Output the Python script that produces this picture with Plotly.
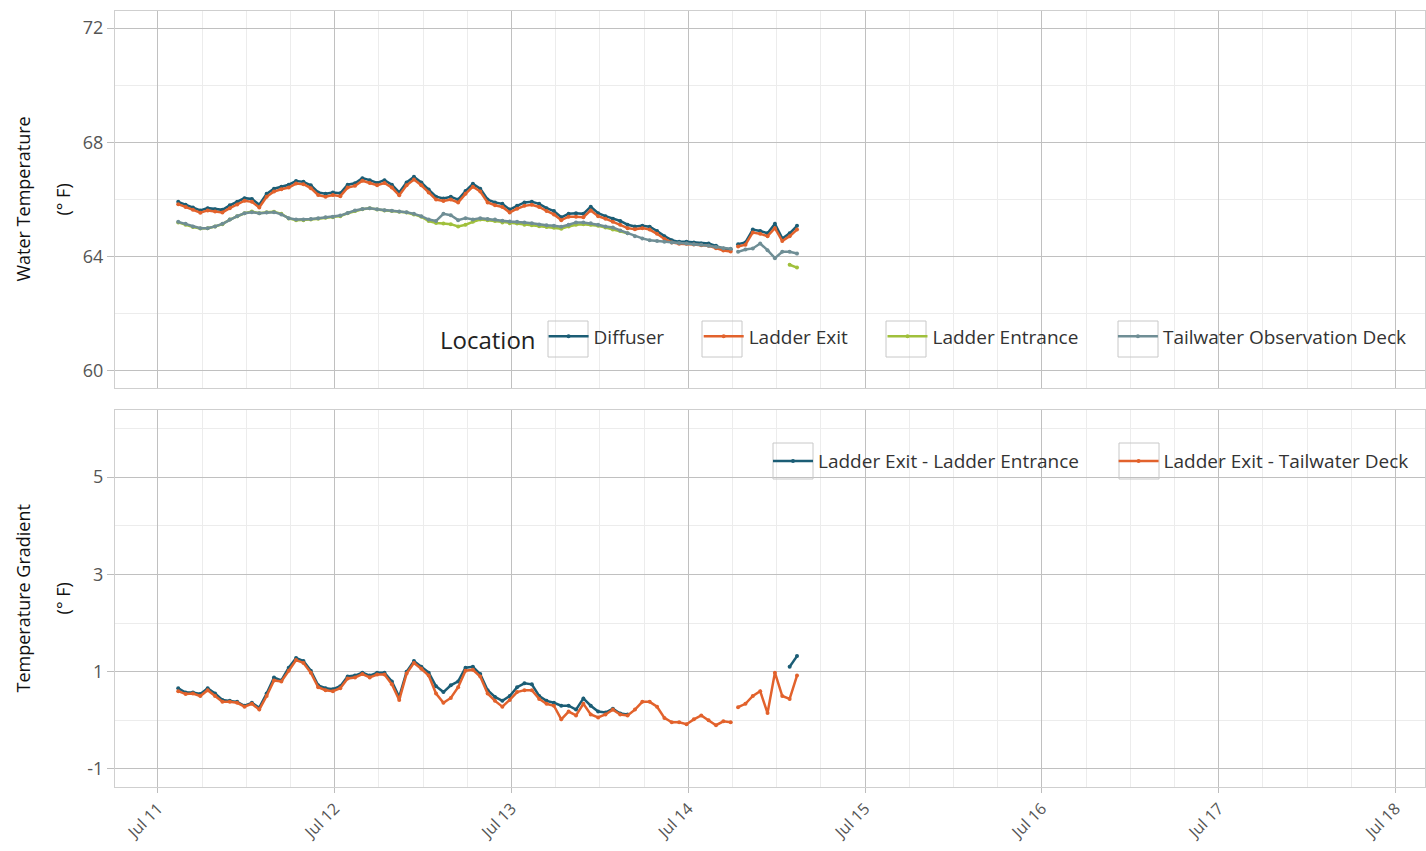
import pandas as pd
import plotly.graph_objects as go
from plotly.subplots import make_subplots

# ---- time axis (hourly readings, two segments with a gap on Jul 14) ----
seg1_start = "2023-07-11 02:45"
seg1_len = 76
seg2_start = "2023-07-14 06:45"
seg2_len = 9
gap_time = "2023-07-14 06:15"

# ---- Water temperature (deg F) ----
diffuser_1 = [65.92, 65.82, 65.72, 65.62, 65.70, 65.66, 65.64, 65.80, 65.92, 66.05,
              66.02, 65.82, 66.20, 66.38, 66.45, 66.52, 66.65, 66.62, 66.50, 66.25,
              66.20, 66.25, 66.22, 66.52, 66.57, 66.75, 66.68, 66.58, 66.68, 66.52,
              66.25, 66.60, 66.80, 66.60, 66.35, 66.10, 66.04, 66.10, 66.00, 66.30,
              66.55, 66.38, 66.00, 65.90, 65.85, 65.65, 65.78, 65.90, 65.92, 65.85,
              65.70, 65.60, 65.38, 65.50, 65.52, 65.50, 65.75, 65.52, 65.42, 65.33,
              65.25, 65.12, 65.06, 65.08, 65.05, 64.90, 64.72, 64.58, 64.52, 64.52,
              64.50, 64.46, 64.46, 64.38, 64.28, 64.25]
diffuser_2 = [64.44, 64.50, 64.95, 64.90, 64.82, 65.15, 64.64, 64.82, 65.08]

ladder_exit_1 = [65.84, 65.74, 65.64, 65.54, 65.62, 65.58, 65.55, 65.70, 65.83, 65.96,
                 65.92, 65.72, 66.10, 66.28, 66.36, 66.42, 66.56, 66.54, 66.40, 66.16,
                 66.10, 66.16, 66.12, 66.42, 66.48, 66.66, 66.58, 66.50, 66.58, 66.42,
                 66.15, 66.50, 66.70, 66.50, 66.25, 66.00, 65.95, 66.00, 65.90, 66.20,
                 66.45, 66.28, 65.90, 65.80, 65.74, 65.55, 65.68, 65.78, 65.82, 65.74,
                 65.60, 65.48, 65.28, 65.40, 65.40, 65.38, 65.62, 65.42, 65.33, 65.22,
                 65.12, 65.00, 64.96, 65.00, 64.95, 64.80, 64.62, 64.50, 64.45, 64.45,
                 64.43, 64.40, 64.38, 64.30, 64.22, 64.18]
ladder_exit_2 = [64.36, 64.42, 64.85, 64.80, 64.72, 65.00, 64.55, 64.72, 64.95]

ladder_entrance_1 = [65.20, 65.12, 65.04, 64.99, 65.00, 65.06, 65.14, 65.30, 65.42, 65.52,
                     65.58, 65.52, 65.56, 65.57, 65.50, 65.34, 65.28, 65.28, 65.30, 65.33,
                     65.36, 65.38, 65.42, 65.52, 65.60, 65.66, 65.70, 65.65, 65.62, 65.60,
                     65.57, 65.55, 65.48, 65.40, 65.25, 65.18, 65.16, 65.14, 65.06, 65.12,
                     65.22, 65.30, 65.28, 65.25, 65.20, 65.17, 65.16, 65.12, 65.10, 65.07,
                     65.04, 65.01, 64.98, 65.06, 65.12, 65.14, 65.12, 65.08, 65.02, 64.95,
                     64.90, 64.82,
                     None, None, None, None, None, None, None, None, None, None,
                     None, None, None, None]
ladder_entrance_2 = [None, None, None, None, None, None, None, 63.72, 63.62]

tailwater_1 = [65.22, 65.15, 65.06, 65.00, 65.00, 65.06, 65.15, 65.30, 65.42, 65.52,
               65.56, 65.52, 65.55, 65.56, 65.48, 65.35, 65.30, 65.30, 65.32, 65.35,
               65.38, 65.40, 65.44, 65.53, 65.62, 65.67, 65.70, 65.66, 65.63, 65.61,
               65.58, 65.56, 65.50, 65.42, 65.30, 65.25, 65.50, 65.45, 65.28, 65.35,
               65.30, 65.35, 65.32, 65.30, 65.26, 65.23, 65.22, 65.20, 65.17, 65.13,
               65.10, 65.08, 65.05, 65.12, 65.20, 65.20, 65.17, 65.12, 65.06, 65.02,
               64.92, 64.82, 64.72, 64.64, 64.58, 64.55, 64.52, 64.50, 64.48, 64.46,
               64.44, 64.42, 64.38, 64.34, 64.30, 64.28]
tailwater_2 = [64.17, 64.25, 64.29, 64.46, 64.23, 63.95, 64.17, 64.17, 64.11]

# ---- Temperature gradients (deg F) ----
exit_minus_entrance_1 = [0.66, 0.57, 0.57, 0.54, 0.66, 0.55, 0.42, 0.40, 0.38, 0.30,
                         0.36, 0.26, 0.55, 0.88, 0.82, 1.08, 1.28, 1.22, 1.02, 0.72,
                         0.66, 0.64, 0.70, 0.90, 0.92, 0.98, 0.92, 0.98, 0.98, 0.80,
                         0.48, 1.00, 1.22, 1.10, 0.98, 0.70, 0.58, 0.72, 0.80, 1.08,
                         1.10, 0.95, 0.62, 0.48, 0.40, 0.50, 0.68, 0.76, 0.74, 0.50,
                         0.40, 0.36, 0.30, 0.30, 0.22, 0.45, 0.30, 0.18, 0.16, 0.24,
                         0.14, 0.12,
                         None, None, None, None, None, None, None, None, None, None,
                         None, None, None, None]
exit_minus_entrance_2 = [None, None, None, None, None, None, None, 1.10, 1.32]

exit_minus_tailwater_1 = [0.60, 0.54, 0.55, 0.50, 0.62, 0.50, 0.38, 0.38, 0.36, 0.28,
                          0.34, 0.22, 0.50, 0.82, 0.80, 1.02, 1.24, 1.18, 0.98, 0.68,
                          0.62, 0.60, 0.66, 0.86, 0.88, 0.95, 0.88, 0.94, 0.94, 0.74,
                          0.42, 0.96, 1.18, 1.06, 0.92, 0.55, 0.36, 0.46, 0.68, 1.02,
                          1.04, 0.90, 0.55, 0.40, 0.28, 0.42, 0.58, 0.62, 0.62, 0.44,
                          0.34, 0.30, 0.02, 0.18, 0.10, 0.34, 0.12, 0.06, 0.12, 0.22,
                          0.12, 0.10, 0.22, 0.38, 0.38, 0.28, 0.05, -0.04, -0.04, -0.08,
                          0.02, 0.10, 0.00, -0.10, -0.02, -0.04]
exit_minus_tailwater_2 = [0.27, 0.34, 0.50, 0.60, 0.15, 0.98, 0.50, 0.44, 0.92]

x_ticks = ["2023-07-11", "2023-07-12", "2023-07-13", "2023-07-14",
           "2023-07-15", "2023-07-16", "2023-07-17", "2023-07-18"]
x_tick_text = ["Jul 11", "Jul 12", "Jul 13", "Jul 14", "Jul 15", "Jul 16", "Jul 17", "Jul 18"]
top_y_ticks = [60, 64, 68, 72]
bottom_y_ticks = [-1, 1, 3, 5]
bottom_y_text = ["-1", "1", "3", "5"]

# ---- build time list ----
t1 = list(pd.date_range(seg1_start, periods=seg1_len, freq="h"))
t2 = list(pd.date_range(seg2_start, periods=seg2_len, freq="h"))
times = t1 + [pd.Timestamp(gap_time)] + t2


def joined(a, b):
    return list(a) + [None] + list(b)


C_DIFF = "#1b5d75"
C_EXIT = "#e2622c"
C_ENTR = "#a0c03c"
C_TAIL = "#6f8e95"

FONT = "Open Sans"
PAD = "\u00a0" * 6  # spacing after legend entries

# figure geometry (pixels) used to place legend key boxes
W, H = 1426, 851
ML, MR, MT, MB = 115, 1, 11, 64
PW = W - ML - MR
PH = H - MT - MB


def px_x(p):
    return (p - ML) / PW


def px_y(p):
    return (H - MB - p) / PH


fig = make_subplots(rows=2, cols=1, shared_xaxes=True, vertical_spacing=0.028)

top_series = [
    ("Diffuser" + PAD, joined(diffuser_1, diffuser_2), C_DIFF),
    ("Ladder Exit" + PAD, joined(ladder_exit_1, ladder_exit_2), C_EXIT),
    ("Ladder Entrance" + PAD, joined(ladder_entrance_1, ladder_entrance_2), C_ENTR),
    ("Tailwater Observation Deck", joined(tailwater_1, tailwater_2), C_TAIL),
]
for name, vals, col in top_series:
    fig.add_trace(go.Scatter(x=times, y=vals, name=name, mode="lines+markers",
                             line=dict(color=col, width=2.5),
                             marker=dict(color=col, size=4),
                             legend="legend"), row=1, col=1)

bottom_series = [
    ("Ladder Exit - Ladder Entrance" + PAD, joined(exit_minus_entrance_1, exit_minus_entrance_2), C_DIFF),
    ("Ladder Exit - Tailwater Deck", joined(exit_minus_tailwater_1, exit_minus_tailwater_2), C_EXIT),
]
for name, vals, col in bottom_series:
    fig.add_trace(go.Scatter(x=times, y=vals, name=name, mode="lines+markers",
                             line=dict(color=col, width=2.5),
                             marker=dict(color=col, size=4),
                             legend="legend2"), row=2, col=1)

grid_major = "#c0c0c0"
grid_minor = "#ececec"
axis_line = "#cfcfcf"

fig.update_xaxes(
    type="date",
    range=["2023-07-10 18:10", "2023-07-18 04:00"],
    tickvals=x_ticks, ticktext=x_tick_text,
    showgrid=True, gridcolor=grid_major, gridwidth=1,
    minor=dict(dtick=6 * 3600 * 1000, tick0="2023-07-11", showgrid=True,
               gridcolor=grid_minor, gridwidth=1),
    showline=True, linecolor=axis_line, mirror=True, zeroline=False,
)
fig.update_xaxes(row=1, col=1, showticklabels=False, ticks="")
fig.update_xaxes(row=2, col=1, ticks="outside", ticklen=5, tickcolor="#bdbdbd",
                 tickangle=-45, tickfont=dict(family=FONT, size=16, color="#555555"))

fig.update_yaxes(showgrid=True, gridcolor=grid_major, gridwidth=1,
                 showline=True, linecolor=axis_line, mirror=True, zeroline=False,
                 ticks="outside", ticklen=7, tickcolor="#bdbdbd",
                 tickfont=dict(family=FONT, size=18, color="#555555"))
fig.update_yaxes(row=1, col=1, range=[59.4, 72.6], tickvals=top_y_ticks,
                 minor=dict(dtick=2, tick0=60, showgrid=True, gridcolor=grid_minor))
fig.update_yaxes(row=2, col=1, range=[-1.37, 6.38], tickvals=bottom_y_ticks,
                 ticktext=bottom_y_text,
                 minor=dict(dtick=1, tick0=-1, showgrid=True, gridcolor=grid_minor))

fig.update_layout(
    width=W, height=H,
    margin=dict(l=ML, r=MR, t=MT, b=MB),
    paper_bgcolor="white", plot_bgcolor="white",
    font=dict(family=FONT, color="#333333"),
    legend=dict(orientation="h", x=px_x(1412), xanchor="right", y=0.578, yanchor="middle",
                bgcolor="rgba(255,255,255,0)", font=dict(size=19, color="#333333"),
                title=dict(text="Location", font=dict(size=24, color="#222222"), side="left"),
                itemwidth=40),
    legend2=dict(orientation="h", x=px_x(1414), xanchor="right", y=0.42, yanchor="middle",
                 bgcolor="rgba(255,255,255,0)", font=dict(size=19, color="#333333"),
                 itemwidth=40),
)

# white legend backgrounds (cover grid lines like ggplot legend.background)
fig.add_shape(type="rect", xref="paper", yref="paper", x0=px_x(430), x1=1,
              y0=px_y(370), y1=px_y(307),
              fillcolor="white", line=dict(width=0), layer="between")
fig.add_shape(type="rect", xref="paper", yref="paper", x0=px_x(745), x1=1,
              y0=px_y(487), y1=px_y(437),
              fillcolor="white", line=dict(width=0), layer="between")

# legend key boxes (ggplot legend.key outline)
key_box_color = "#c8c8c8"
for x0p in [548, 702, 886, 1118]:
    fig.add_shape(type="rect", xref="paper", yref="paper",
                  x0=px_x(x0p), x1=px_x(x0p + 40), y0=px_y(357), y1=px_y(321),
                  fillcolor="rgba(0,0,0,0)", line=dict(color=key_box_color, width=1),
                  layer="above")
for x0p in [773, 1119]:
    fig.add_shape(type="rect", xref="paper", yref="paper",
                  x0=px_x(x0p), x1=px_x(x0p + 40), y0=px_y(479), y1=px_y(443),
                  fillcolor="rgba(0,0,0,0)", line=dict(color=key_box_color, width=1),
                  layer="above")

# y axis titles (two lines, wide spacing as in ggplot)
for yref, l1 in [("y domain", "Water Temperature"), ("y2 domain", "Temperature Gradient")]:
    fig.add_annotation(text=l1, xref="paper", x=0, xshift=-92, yref=yref, y=0.5,
                       textangle=-90, showarrow=False, xanchor="center", yanchor="middle",
                       font=dict(family=FONT, size=18, color="#111111"))
    fig.add_annotation(text="(° F)", xref="paper", x=0, xshift=-52, yref=yref, y=0.5,
                       textangle=-90, showarrow=False, xanchor="center", yanchor="middle",
                       font=dict(family=FONT, size=18, color="#111111"))

fig.write_html("out.html", config={"displayModeBar": False})

# remove default page margin so the figure sits at the window origin
with open("out.html", "r", encoding="utf-8") as f:
    html = f.read()
html = html.replace("<head>", "<head><style>html,body{margin:0;padding:0;}</style>", 1)
with open("out.html", "w", encoding="utf-8") as f:
    f.write(html)
